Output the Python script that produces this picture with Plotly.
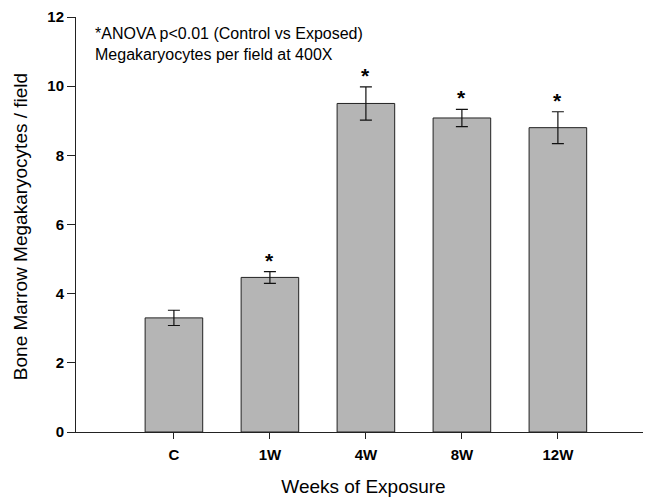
import plotly.graph_objects as go

categories = ["C", "1W", "4W", "8W", "12W"]
means = [3.30, 4.47, 9.50, 9.08, 8.80]
errors = [0.22, 0.17, 0.48, 0.25, 0.46]
significant = [False, True, True, True, True]
y_ticks = [0, 2, 4, 6, 8, 10, 12]

FONT = "Liberation Sans, Arial, sans-serif"

fig = go.Figure()
fig.add_trace(go.Bar(
    x=categories, y=means, width=0.6,
    marker=dict(color="#b5b5b5", line=dict(color="#222222", width=1)),
    error_y=dict(type="data", array=errors, visible=True, color="#111111",
                 thickness=1.2, width=6),
    showlegend=False,
))

for cat, m, e, s in zip(categories, means, errors, significant):
    if s:
        fig.add_annotation(x=cat, y=m + e, yref="y", xref="x", text="<b>*</b>",
                           showarrow=False, yanchor="bottom", yshift=-2,
                           font=dict(family=FONT, size=21, color="black"))

fig.add_annotation(xref="paper", yref="paper", x=0.0296, y=0.986,
                   xanchor="left", yanchor="top", align="left", showarrow=False,
                   text="*ANOVA p<0.01 (Control vs Exposed)<br>Megakaryocytes per field at 400X",
                   font=dict(family=FONT, size=16, color="black"))

# y-axis title placed as rotated annotation
fig.add_annotation(xref="paper", yref="paper", x=-0.0974, y=0.496,
                   xanchor="center", yanchor="middle", textangle=-90, showarrow=False,
                   text="Bone Marrow Megakaryocytes / field",
                   font=dict(family=FONT, size=19, color="black"))

fig.update_layout(
    width=643, height=490,
    margin=dict(l=68, r=0, t=9, b=66),
    paper_bgcolor="white", plot_bgcolor="white",
    font=dict(family=FONT, color="black"),
    xaxis=dict(
        type="category", range=[-1.02, 4.97],
        showline=True, linecolor="#222222", linewidth=1,
        ticks="outside", ticklen=6, tickcolor="#222222",
        tickfont=dict(family=FONT, size=15, color="black", weight="bold"),
        ticklabelstandoff=3,
        title=dict(text="Weeks of Exposure", font=dict(family=FONT, size=19, color="black"), standoff=17),
        showgrid=False, zeroline=False,
    ),
    yaxis=dict(
        range=[0, 12], tickvals=y_ticks,
        showline=True, linecolor="#222222", linewidth=1,
        ticks="outside", ticklen=8, tickcolor="#222222",
        tickfont=dict(family=FONT, size=15, color="black", weight="bold"),
        showgrid=False, zeroline=False,
    ),
)

fig.write_html("out.html")
